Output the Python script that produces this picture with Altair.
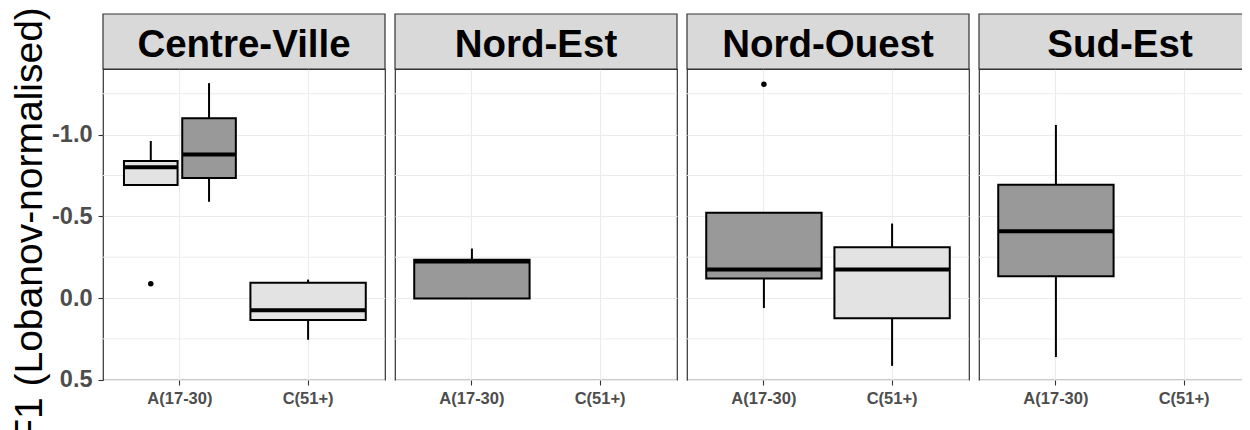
import altair as alt
import pandas as pd

regions = ["Centre-Ville", "Nord-Est", "Nord-Ouest", "Sud-Est"]
ages = ["A(17-30)", "C(51+)"]
groups = ["F", "M"]
group_colors = ["#e3e3e3", "#999999"]

# box statistics
box_region = ["Centre-Ville", "Centre-Ville", "Centre-Ville", "Nord-Est", "Nord-Ouest", "Nord-Ouest", "Sud-Est"]
box_age = ["A(17-30)", "A(17-30)", "C(51+)", "A(17-30)", "A(17-30)", "C(51+)", "A(17-30)"]
box_group = ["F", "M", "F", "M", "M", "F", "M"]
box_min = [-0.961, -1.315, -0.113, -0.303, -0.522, -0.456, -1.059]
box_q1 = [-0.838, -1.100, -0.093, -0.235, -0.522, -0.311, -0.693]
box_median = [-0.801, -0.879, 0.075, -0.223, -0.174, -0.174, -0.409]
box_q3 = [-0.691, -0.734, 0.134, 0.003, -0.119, 0.124, -0.133]
box_max = [-0.691, -0.589, 0.255, 0.003, 0.061, 0.415, 0.361]

out_region = ["Centre-Ville", "Nord-Ouest"]
out_age = ["A(17-30)", "A(17-30)"]
out_group = ["F", "M"]
out_value = [-0.088, -1.308]

y_major = [-1.0, -0.5, 0.0, 0.5]
y_minor = [-1.25, -0.75, -0.25, 0.25]
y_domain = [-1.4015, 0.5015]
y_title = "F1 (Lobanov-normalised)"

W, H, STRIP = 282, 311, 55
FONT = "Liberation Sans"

boxes = pd.DataFrame({
    "region": box_region, "age": box_age, "group": box_group,
    "lo": box_min, "q1": box_q1, "med": box_median, "q3": box_q3, "hi": box_max,
})
boxes["n"] = boxes.groupby(["region", "age"])["group"].transform("count")
outl = pd.DataFrame({"region": out_region, "age": out_age, "group": out_group, "value": out_value})
outl = outl.merge(boxes[["region", "age", "group", "n"]], on=["region", "age", "group"], how="left")


def panel(region, first):
    yscale = alt.Scale(domain=y_domain, reverse=True, nice=False, zero=False)
    xscale = alt.Scale(domain=ages, paddingInner=0.1, paddingOuter=0.15)
    xaxis = alt.Axis(title=None, labelAngle=0, labelFontSize=16.5, labelFontWeight="bold",
                     labelColor="#4d4d4d", labelFont=FONT, tickColor="#333333", tickSize=5,
                     tickWidth=1.1, labelPadding=5, domain=False, grid=True,
                     gridColor="#ebebeb", gridWidth=1.1)
    if first:
        yaxis = alt.Axis(values=y_major, title=y_title,
                         labelExpr="datum.value < 0 ? '-' + format(abs(datum.value), '.1f') : format(datum.value, '.1f')",
                         labelFontSize=23.5, labelFontWeight="bold", labelColor="#4d4d4d", labelFont=FONT,
                         labelPadding=6, tickColor="#333333", tickSize=5, tickWidth=1.1,
                         titleFont=FONT, titleFontSize=39, titleFontWeight="normal", titleColor="black",
                         titlePadding=2, domain=False, grid=True, gridColor="#ebebeb", gridWidth=1.1)
    else:
        yaxis = alt.Axis(values=y_major, title=None, labels=False, ticks=False, domain=False,
                         grid=True, gridColor="#ebebeb", gridWidth=1.1)

    def X():
        return alt.X("age:N", scale=xscale, axis=xaxis, title=None)

    def Y(f):
        return alt.Y(f, scale=yscale, axis=yaxis, title=(y_title if first else None))

    xo = alt.XOffset("group:N", scale=alt.Scale(domain=groups, paddingInner=0.08, paddingOuter=0.03))
    color = alt.Color("group:N", scale=alt.Scale(domain=groups, range=group_colors), legend=None)

    layers = []
    layers.append(alt.Chart(pd.DataFrame({"v": y_minor, "age": [ages[0]] * 4})).mark_rule(
        color="#ebebeb", strokeWidth=1.0).encode(y=Y("v:Q")))

    b = boxes[boxes.region == region]
    o = outl[outl.region == region]
    for dodge in (False, True):
        bs = b[(b.n > 1) == dodge]
        os_ = o[(o.n > 1) == dodge]
        extra = {"xOffset": xo} if dodge else {}
        if len(bs):
            layers.append(alt.Chart(bs).mark_rule(color="black", strokeWidth=2).encode(
                x=X(), y=Y("lo:Q"), y2="hi:Q", **extra))
            layers.append(alt.Chart(bs).mark_bar(stroke="black", strokeWidth=2).encode(
                x=X(), y=Y("q1:Q"), y2="q3:Q", fill=color, **extra))
            layers.append(alt.Chart(bs).mark_bar(stroke="black", strokeWidth=4, fill="black").encode(
                x=X(), y=Y("med:Q"), y2="med:Q", **extra))
        if len(os_):
            layers.append(alt.Chart(os_).mark_circle(color="black", size=30, opacity=1).encode(
                x=X(), y=Y("value:Q"), **extra))

    sdf = pd.DataFrame({"region": [region]})
    layers.append(alt.Chart(sdf).mark_rect(fill="#d9d9d9", stroke="#333333", strokeWidth=1.2).encode(
        x=alt.value(0), x2=alt.value(W), y=alt.value(-STRIP), y2=alt.value(0)))
    layers.append(alt.Chart(sdf).mark_text(font=FONT, fontSize=38.5, fontWeight="bold", color="black",
                                           baseline="alphabetic", align="center").encode(
        x=alt.value(W / 2), y=alt.value(-12), text="region:N"))

    return alt.layer(*layers).properties(width=W, height=H)


chart = alt.hconcat(*[panel(r, i == 0) for i, r in enumerate(regions)], spacing=6).properties(
    padding={"left": 95, "top": 61, "right": 1139, "bottom": 361},
    autosize=alt.AutoSizeParams(type="none"),
    background="white"
).configure_view(stroke="#333333", strokeWidth=1.2)

chart.save("out.html", embed_options={"renderer": "svg", "actions": False})
